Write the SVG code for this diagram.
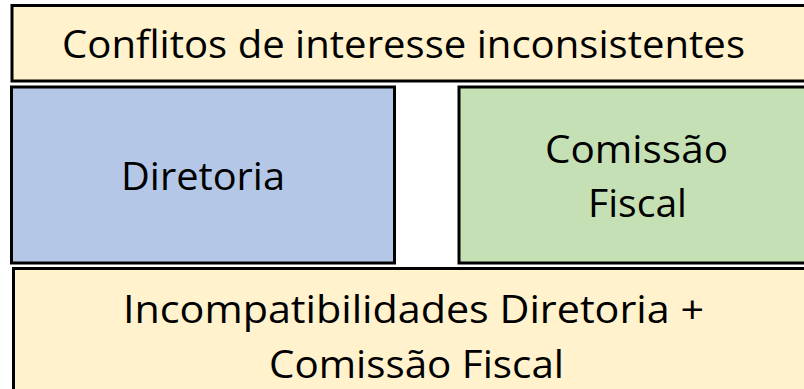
<svg xmlns="http://www.w3.org/2000/svg" width="804" height="389" viewBox="0 0 804 389">
<style>
.box{stroke:#000;stroke-width:3}
.peach{fill:#FFF2CC}
.blue{fill:#B4C7E7}
.green{fill:#C5E0B4}
text{font-family:"Open Sans","Noto Sans",sans-serif;font-size:39px;fill:#000}
</style>
<rect width="804" height="389" fill="#fff"/>
<g id="conflitos">
<rect class="box peach" x="12" y="5.5" width="800" height="75.5"/>
<text x="62" y="58" textLength="683" lengthAdjust="spacingAndGlyphs">Conflitos de interesse inconsistentes</text>
</g>
<g id="diretoria">
<rect class="box blue" x="11.5" y="87" width="383" height="176"/>
<text x="121" y="190" textLength="164" lengthAdjust="spacingAndGlyphs">Diretoria</text>
</g>
<g id="comissao">
<rect class="box green" x="459" y="87" width="350" height="176"/>
<text x="545" y="163" textLength="183" lengthAdjust="spacingAndGlyphs">Comissão</text>
<text x="588" y="217" textLength="99" lengthAdjust="spacingAndGlyphs">Fiscal</text>
</g>
<g id="incompatibilidades">
<rect class="box peach" x="13.5" y="268.5" width="800" height="130"/>
<text x="123" y="323" textLength="581" lengthAdjust="spacingAndGlyphs">Incompatibilidades Diretoria +</text>
<text x="269" y="378" textLength="295" lengthAdjust="spacingAndGlyphs">Comissão Fiscal</text>
</g>
<g id="connectors"></g>
</svg>
